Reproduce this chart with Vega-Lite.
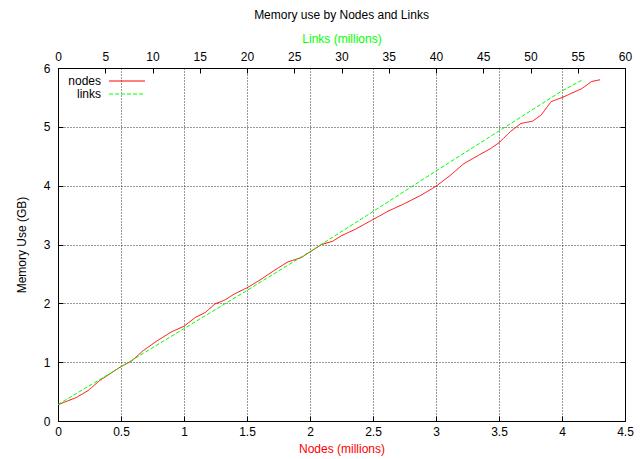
{
  "$schema": "https://vega.github.io/schema/vega-lite/v6.json",
  "width": 567,
  "height": 353,
  "autosize": {"type": "none"},
  "padding": {"left": 58, "top": 68, "right": 16, "bottom": 38},
  "background": "white",
  "title": {"text": "Memory use by Nodes and Links", "fontSize": 12, "fontWeight": "normal", "font": "Liberation Sans", "color": "black", "offset": 10},
  "config": {
    "font": "Liberation Sans",
    "view": {"stroke": "black", "strokeWidth": 1},
    "axis": {
      "domain": false,
      "tickColor": "black",
      "tickSize": -5,
      "tickWidth": 1,
      "labelFont": "Liberation Sans",
      "labelFontSize": 12,
      "labelColor": "black",
      "titleFont": "Liberation Sans",
      "titleFontSize": 12,
      "titleFontWeight": "normal",
      "titleColor": "black",
      "gridColor": "black",
      "gridOpacity": 0.8,
      "gridDash": [1, 2],
      "gridWidth": 1
    }
  },
  "datasets": {
    "nodes": [
      {"nodes": 0, "mem": 0.276, "series": "nodes"},
      {"nodes": 0.146, "mem": 0.40, "series": "nodes"},
      {"nodes": 0.239, "mem": 0.517, "series": "nodes"},
      {"nodes": 0.332, "mem": 0.69, "series": "nodes"},
      {"nodes": 0.411, "mem": 0.80, "series": "nodes"},
      {"nodes": 0.496, "mem": 0.92, "series": "nodes"},
      {"nodes": 0.584, "mem": 1.02, "series": "nodes"},
      {"nodes": 0.676, "mem": 1.195, "series": "nodes"},
      {"nodes": 0.782, "mem": 1.356, "series": "nodes"},
      {"nodes": 0.902, "mem": 1.517, "series": "nodes"},
      {"nodes": 1.0, "mem": 1.61, "series": "nodes"},
      {"nodes": 1.09, "mem": 1.76, "series": "nodes"},
      {"nodes": 1.17, "mem": 1.846, "series": "nodes"},
      {"nodes": 1.246, "mem": 1.99, "series": "nodes"},
      {"nodes": 1.325, "mem": 2.057, "series": "nodes"},
      {"nodes": 1.40, "mem": 2.16, "series": "nodes"},
      {"nodes": 1.5, "mem": 2.263, "series": "nodes"},
      {"nodes": 1.61, "mem": 2.406, "series": "nodes"},
      {"nodes": 1.717, "mem": 2.56, "series": "nodes"},
      {"nodes": 1.82, "mem": 2.70, "series": "nodes"},
      {"nodes": 1.93, "mem": 2.777, "series": "nodes"},
      {"nodes": 2.0, "mem": 2.874, "series": "nodes"},
      {"nodes": 2.092, "mem": 3.0, "series": "nodes"},
      {"nodes": 2.18, "mem": 3.056, "series": "nodes"},
      {"nodes": 2.25, "mem": 3.15, "series": "nodes"},
      {"nodes": 2.355, "mem": 3.254, "series": "nodes"},
      {"nodes": 2.5, "mem": 3.424, "series": "nodes"},
      {"nodes": 2.618, "mem": 3.565, "series": "nodes"},
      {"nodes": 2.75, "mem": 3.695, "series": "nodes"},
      {"nodes": 2.88, "mem": 3.836, "series": "nodes"},
      {"nodes": 3.0, "mem": 3.99, "series": "nodes"},
      {"nodes": 3.105, "mem": 4.16, "series": "nodes"},
      {"nodes": 3.219, "mem": 4.371, "series": "nodes"},
      {"nodes": 3.326, "mem": 4.503, "series": "nodes"},
      {"nodes": 3.433, "mem": 4.63, "series": "nodes"},
      {"nodes": 3.5, "mem": 4.73, "series": "nodes"},
      {"nodes": 3.594, "mem": 4.926, "series": "nodes"},
      {"nodes": 3.674, "mem": 5.057, "series": "nodes"},
      {"nodes": 3.767, "mem": 5.097, "series": "nodes"},
      {"nodes": 3.834, "mem": 5.2, "series": "nodes"},
      {"nodes": 3.914, "mem": 5.43, "series": "nodes"},
      {"nodes": 4.0, "mem": 5.497, "series": "nodes"},
      {"nodes": 4.075, "mem": 5.571, "series": "nodes"},
      {"nodes": 4.155, "mem": 5.646, "series": "nodes"},
      {"nodes": 4.235, "mem": 5.77, "series": "nodes"},
      {"nodes": 4.302, "mem": 5.8, "series": "nodes"}
    ],
    "links": [
      {"links": 0, "mem": 0.28, "series": "links"},
      {"links": 6.67, "mem": 0.92, "series": "links"},
      {"links": 13.33, "mem": 1.57, "series": "links"},
      {"links": 20, "mem": 2.22, "series": "links"},
      {"links": 26.67, "mem": 2.88, "series": "links"},
      {"links": 33.33, "mem": 3.56, "series": "links"},
      {"links": 40, "mem": 4.25, "series": "links"},
      {"links": 46.67, "mem": 4.93, "series": "links"},
      {"links": 53.33, "mem": 5.61, "series": "links"},
      {"links": 55.4, "mem": 5.79, "series": "links"}
    ]
  },
  "layer": [
    {
      "data": {"name": "nodes"},
      "mark": {"type": "line", "strokeWidth": 1},
      "encoding": {
        "x": {
          "field": "nodes", "type": "quantitative",
          "scale": {"domain": [0, 4.5], "nice": false, "zero": false},
          "axis": {"orient": "bottom", "title": "Nodes (millions)", "titleColor": "#ff0000", "values": [0, 0.5, 1, 1.5, 2, 2.5, 3, 3.5, 4, 4.5], "format": "~g", "grid": true, "labelPadding": 10, "titlePadding": 6, "labelFlush": false}
        },
        "y": {
          "field": "mem", "type": "quantitative",
          "scale": {"domain": [0, 6], "nice": false},
          "axis": {"orient": "left", "title": "Memory Use (GB)", "values": [0, 1, 2, 3, 4, 5, 6], "format": "~g", "grid": true, "labelPadding": 13, "titlePadding": 15, "labelFlush": false}
        },
        "color": {
          "field": "series", "type": "nominal",
          "scale": {"domain": ["nodes", "links"], "range": ["#ff0000", "#00ff00"]},
          "legend": {"orient": "none", "legendX": 63, "legendY": 7, "title": null, "symbolType": "M-3.27,0H3.27", "symbolSize": 121, "symbolStrokeWidth": 1, "labelAlign": "right", "labelOffset": -32, "labelFontSize": 12, "labelFont": "Liberation Sans", "labelColor": "black", "rowPadding": 1, "padding": 0}
        },
        "strokeDash": {
          "field": "series", "type": "nominal",
          "scale": {"domain": ["nodes", "links"], "range": [[1, 0], [4, 2]]},
          "legend": {"orient": "none", "legendX": 63, "legendY": 7, "title": null, "symbolType": "M-3.27,0H3.27", "symbolSize": 121, "symbolStrokeWidth": 1, "labelAlign": "right", "labelOffset": -32, "labelFontSize": 12, "labelFont": "Liberation Sans", "labelColor": "black", "rowPadding": 1, "padding": 0}
        }
      }
    },
    {
      "data": {"name": "links"},
      "mark": {"type": "line", "strokeWidth": 1},
      "encoding": {
        "x": {
          "field": "links", "type": "quantitative",
          "scale": {"domain": [0, 60], "nice": false, "zero": false},
          "axis": {"orient": "top", "title": "Links (millions)", "titleColor": "#00ff00", "values": [0, 5, 10, 15, 20, 25, 30, 35, 40, 45, 50, 55, 60], "format": "~g", "grid": false, "labelPadding": 10, "titlePadding": 5, "labelFlush": false}
        },
        "y": {
          "field": "mem", "type": "quantitative",
          "scale": {"domain": [0, 6], "nice": false},
          "axis": {"orient": "right", "title": null, "labels": false, "values": [0, 1, 2, 3, 4, 5, 6], "grid": false}
        },
        "color": {"field": "series", "type": "nominal"},
        "strokeDash": {"field": "series", "type": "nominal"}
      }
    }
  ],
  "resolve": {"scale": {"x": "independent"}, "axis": {"x": "independent", "y": "independent"}}
}
